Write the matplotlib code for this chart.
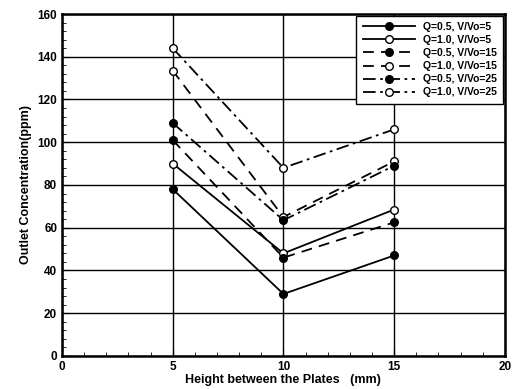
import numpy as np
import matplotlib
matplotlib.use("Agg")
import matplotlib.pyplot as plt
from matplotlib.ticker import MultipleLocator

plt.rcParams['font.family'] = ['Liberation Sans', 'DejaVu Sans']
plt.rcParams['font.weight'] = 'bold'

heights = [5, 10, 15]
labels = ["Q=0.5, V/Vo=5", "Q=1.0, V/Vo=5",
          "Q=0.5, V/Vo=15", "Q=1.0, V/Vo=15",
          "Q=0.5, V/Vo=25", "Q=1.0, V/Vo=25"]
q05_v5 = [78, 29, 47]
q10_v5 = [90, 48, 68.5]
q05_v15 = [101, 46, 62.5]
q10_v15 = [133.5, 65, 91]
q05_v25 = [109, 63.5, 89]
q10_v25 = [144, 88, 106]

series = [q05_v5, q10_v5, q05_v15, q10_v15, q05_v25, q10_v25]
styles = ['-', '-', (0, (6, 4)), (0, (6, 4)), (0, (7, 2.5, 1.5, 2.5)), (0, (7, 2.5, 1.5, 2.5))]
faces = ['black', 'white'] * 3

fig = plt.figure(figsize=(5.13, 3.89), dpi=100)
ax = fig.add_axes([0.121, 0.085, 0.863, 0.879])

for ys, ls, fc, lab in zip(series, styles, faces, labels):
    ax.plot(heights, ys, linestyle=ls, color='black', linewidth=1.3,
            marker='o', markersize=5.5, markerfacecolor=fc,
            markeredgecolor='black', markeredgewidth=1.0, label=lab)

ax.set_xlim(0, 20)
ax.set_ylim(0, 160)
ax.xaxis.set_major_locator(MultipleLocator(5))
ax.xaxis.set_minor_locator(MultipleLocator(1))
ax.yaxis.set_major_locator(MultipleLocator(20))
ax.yaxis.set_minor_locator(MultipleLocator(4))
ax.grid(True, which='major', color='black', linewidth=1.0)
ax.tick_params(which='both', direction='in', labelsize=8.5)
ax.tick_params(which='major', length=5)
ax.tick_params(which='minor', length=3)
for s in ax.spines.values():
    s.set_linewidth(1.8)

ax.set_xlabel("Height between the Plates   (mm)", fontsize=9, fontweight='bold', labelpad=1)
ax.set_ylabel("Outlet Concentration(ppm)", fontsize=9, fontweight='bold', labelpad=4)

leg = ax.legend(loc='upper right', fontsize=7.5, frameon=True, fancybox=False,
                edgecolor='black', framealpha=1, handlelength=5,
                borderpad=0.6, labelspacing=0.3, borderaxespad=0.15)
leg.get_frame().set_linewidth(1.0)

fig.savefig("out.png", dpi=100)
